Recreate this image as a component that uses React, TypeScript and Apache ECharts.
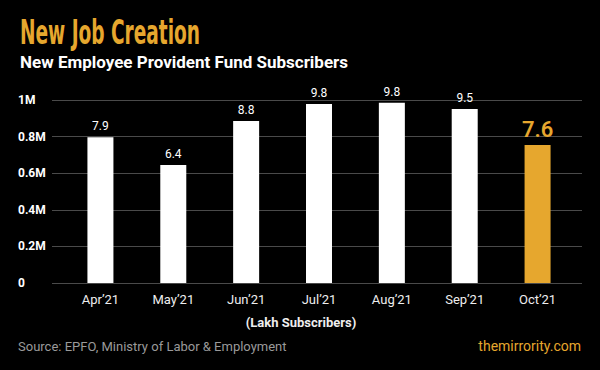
import React, { useEffect, useRef } from "react";
import * as echarts from "echarts";

const categories = ["Apr’21", "May’21", "Jun’21", "Jul’21", "Aug’21", "Sep’21", "Oct’21"];
const values = [796000, 645000, 885000, 978000, 985000, 951000, 754000];
const valueLabels = ["7.9", "6.4", "8.8", "9.8", "9.8", "9.5", "7.6"];
const yMin = 0;
const yMax = 1000000;
const yInterval = 200000;
const highlightIndex = 6;

const titleText = "New Job Creation";
const subtitleText = "New Employee Provident Fund Subscribers";
const axisNameText = "(Lakh Subscribers)";
const sourceText = "Source: EPFO, Ministry of Labor & Employment";
const brandText = "themirrority.com";

const ORANGE = "#E6A72E";
const TITLE_FONT = "'Liberation Sans Narrow', 'DejaVu Sans Condensed', 'Roboto', sans-serif";

function measure(text: string, font: string): number {
  const c = document.createElement("canvas");
  const ctx = c.getContext("2d");
  if (!ctx) return 0;
  ctx.font = font;
  return ctx.measureText(text).width;
}

export default function App() {
  const ref = useRef<HTMLDivElement>(null);
  useEffect(() => {
    document.body.style.margin = "0";
    document.body.style.background = "#000";
    if (!ref.current) return;
    const chart = echarts.init(ref.current, undefined, { renderer: "svg" });
    const tw = measure(titleText, `bold 34px ${TITLE_FONT}`);
    const titleScale = tw > 0 ? 180 / tw : 1;

    chart.setOption({
      animation: false,
      backgroundColor: "#000",
      grid: [
        { left: 52, right: 18, top: 100, bottom: 87 },
        { left: 64, right: 26, top: 100, bottom: 87 },
      ],
      xAxis: [
        { gridIndex: 0, type: "value", show: false, min: 0, max: 1 },
        {
          gridIndex: 1,
          type: "category",
          data: categories,
          axisLine: { show: false },
          axisTick: { show: false },
          axisLabel: {
            color: "#eeeeee",
            fontSize: 13,
            fontFamily: "Roboto",
            margin: 10,
          },
        },
      ],
      yAxis: [
        {
          gridIndex: 0,
          type: "value",
          min: yMin,
          max: yMax,
          interval: yInterval,
          axisLine: { show: false },
          axisTick: { show: false },
          axisLabel: {
            align: "left",
            margin: 34,
            color: "#ffffff",
            fontWeight: "bold",
            fontSize: 12,
            fontFamily: "Roboto",
            formatter: (v: number) => (v === 0 ? "0" : `${+(v / 1000000).toFixed(1)}M`),
          },
          splitLine: { lineStyle: { color: "#4a4a4a", width: 1 } },
        },
        {
          gridIndex: 1,
          type: "value",
          min: yMin,
          max: yMax,
          interval: yInterval,
          show: false,
          splitLine: { show: false },
        },
      ],
      series: [
        {
          type: "bar",
          xAxisIndex: 1,
          yAxisIndex: 1,
          barWidth: 26,
          itemStyle: { color: "#ffffff" },
          label: {
            show: true,
            position: "top",
            distance: 5,
            color: "#ffffff",
            fontSize: 12,
            fontFamily: "Roboto",
            formatter: (p: any) => valueLabels[p.dataIndex],
          },
          data: values.map((v, i) =>
            i === highlightIndex
              ? {
                  value: v,
                  itemStyle: { color: ORANGE },
                  label: { color: ORANGE, fontSize: 22, fontWeight: 600, distance: 5 },
                }
              : v
          ),
        },
      ],
      graphic: [
        {
          type: "text",
          x: 20,
          y: 33,
          scaleX: titleScale,
          style: {
            text: titleText,
            fill: ORANGE,
            fontSize: 34,
            fontWeight: "bold",
            fontFamily: TITLE_FONT,
            verticalAlign: "middle",
            align: "left",
          },
        },
        {
          type: "text",
          x: 20,
          y: 62,
          style: {
            text: subtitleText,
            fill: "#ffffff",
            fontSize: 17,
            fontWeight: "bold",
            fontFamily: "Roboto",
            verticalAlign: "middle",
          },
        },
        {
          type: "text",
          x: 301,
          y: 322,
          style: {
            text: axisNameText,
            fill: "#eeeeee",
            fontSize: 13,
            fontWeight: "bold",
            fontFamily: "Roboto",
            align: "center",
            verticalAlign: "middle",
          },
        },
        {
          type: "text",
          x: 18,
          y: 346,
          style: {
            text: sourceText,
            fill: "#9a9a9a",
            fontSize: 13,
            fontFamily: "Roboto",
            verticalAlign: "middle",
          },
        },
        {
          type: "text",
          x: 581,
          y: 346,
          style: {
            text: brandText,
            fill: ORANGE,
            fontSize: 14,
            fontFamily: "Roboto",
            align: "right",
            verticalAlign: "middle",
          },
        },
      ],
    });
    return () => chart.dispose();
  }, []);
  return <div ref={ref} style={{ width: 600, height: 370 }} />;
}
